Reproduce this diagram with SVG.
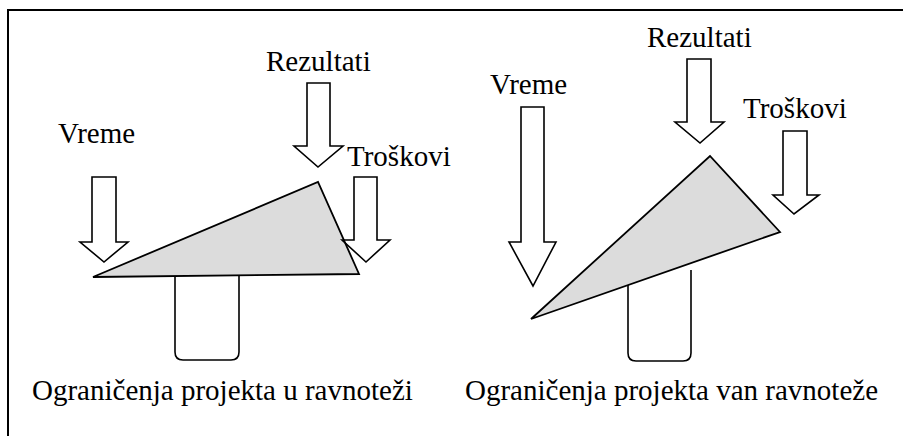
<svg xmlns="http://www.w3.org/2000/svg" width="903" height="436" viewBox="0 0 903 436">
<style>
.lb{font-family:'Liberation Serif','Times New Roman',Times,'DejaVu Serif',serif;font-size:29px;fill:#000}
.ar{fill:none;stroke:#000;stroke-width:1.6;stroke-linejoin:miter}
.tri{fill:#dcdcdc;stroke:#000;stroke-width:1.8;stroke-linejoin:miter}
.base{fill:#fff;stroke:#000;stroke-width:1.6}
.frame{fill:none;stroke:#000;stroke-width:2}
</style>
<path class="frame" d="M8,436 V10 H903"/>
<g id="left-balance">
<g id="left-base"><path class="base" d="M175,270 V352 Q175,360 183,360 H231 Q239,360 239,352 V270"/></g>
<g id="left-beam"><polygon class="tri" points="93,277 318,182 359,274"/></g>
</g>
<g id="right-balance">
<g id="right-base"><path class="base" d="M628,280 V353 Q628,361 636,361 H683 Q691,361 691,353 V270"/></g>
<g id="right-beam"><polygon class="tri" points="531,319 710,156 780,232"/></g>
</g>
<g id="connectors">
<path id="arrow-left-vreme" class="ar" d="M92,177 H116 V242 H128 L104,262 L80,242 H92 Z"/>
<path id="arrow-left-rezultati" class="ar" d="M307,83 H330 V146 H343 L318,167 L294,146 H307 Z"/>
<path id="arrow-left-troskovi" class="ar" d="M354,177 H377 V240 H390 L366,262 L342,240 H354 Z"/>
<path id="arrow-right-vreme" class="ar" d="M521,107 H544 V242 H556 L533,286 L509,242 H521 Z"/>
<path id="arrow-right-rezultati" class="ar" d="M687,59 H711 V122 H724 L700,143 L675,122 H687 Z"/>
<path id="arrow-right-troskovi" class="ar" d="M783,131 H807 V195 H819 L794,214 L773,195 H783 Z"/>
</g>
<g id="labels" class="lb" font-family="'Liberation Serif', 'DejaVu Serif', serif">
<text x="58" y="143">Vreme</text>
<text x="266" y="71">Rezultati</text>
<text x="347" y="166">Troškovi</text>
<text x="490" y="94">Vreme</text>
<text x="647" y="47">Rezultati</text>
<text x="743" y="118">Troškovi</text>
<text x="32" y="400">Ograničenja projekta u ravnoteži</text>
<text x="465" y="400">Ograničenja projekta van ravnoteže</text>
</g>
</svg>
